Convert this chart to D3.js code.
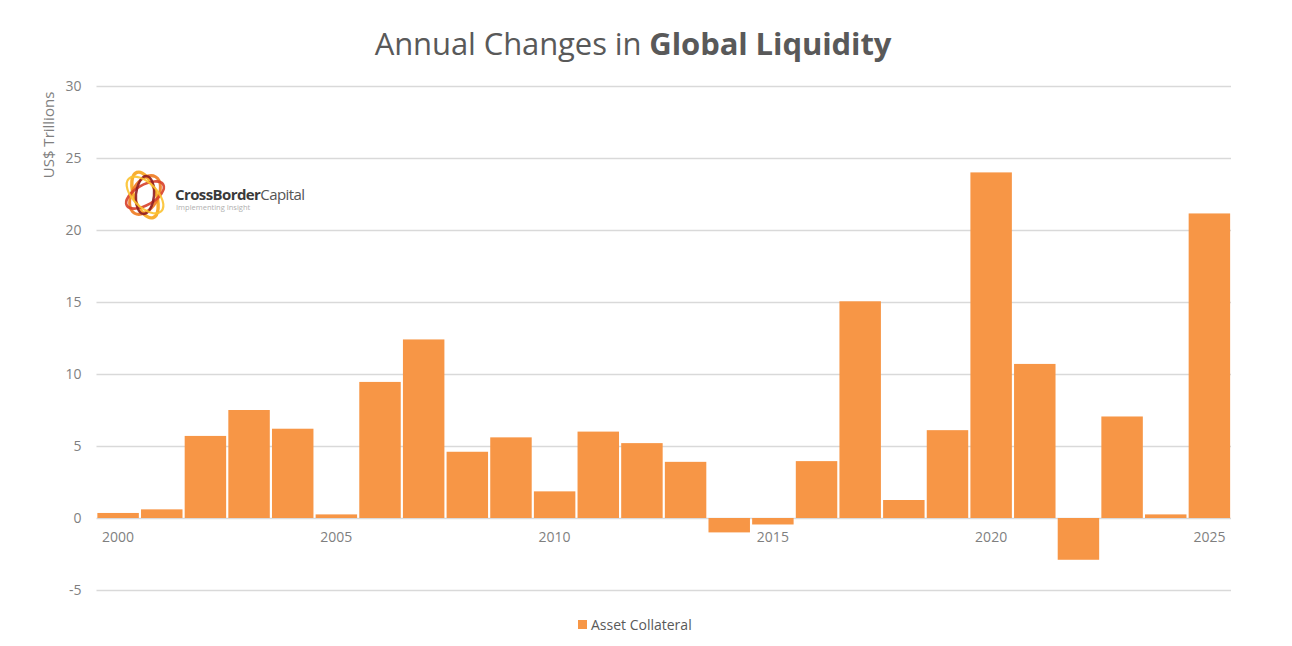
<!DOCTYPE html>
<html>
<head>
<meta charset="utf-8">
<script src="https://cdn.jsdelivr.net/npm/d3@7"></script>
<style>
  body { margin: 0; background: #fff; }
  svg text { font-family: "Open Sans", "Noto Sans", sans-serif; }
</style>
</head>
<body>
<svg id="graphique" width="1292" height="646"></svg>
<script>
// data
var years = [2000, 2001, 2002, 2003, 2004, 2005, 2006, 2007, 2008, 2009,
             2010, 2011, 2012, 2013, 2014, 2015, 2016, 2017, 2018, 2019,
             2020, 2021, 2022, 2023, 2024, 2025];
var assetCollateral = [0.35, 0.6, 5.7, 7.5, 6.2, 0.25, 9.45, 12.4, 4.6, 5.6,
                       1.85, 6.0, 5.2, 3.9, -1.0, -0.45, 3.95, 15.05, 1.25, 6.1,
                       24.0, 10.7, -2.9, 7.05, 0.25, 21.15];
var yTicks = [-5, 0, 5, 10, 15, 20, 25, 30];
var xTickYears = [2000, 2005, 2010, 2015, 2020, 2025];

var graphique = d3.select("#graphique");
var ORANGE = "#f79646";
var GREY_TXT = "#7f7f7f";

var MARGINS = { top: 86, left: 96.5, right: 1231, bottom: 590 };

var xScale = d3.scaleBand()
  .domain(years)
  .range([MARGINS.left, MARGINS.right])
  .paddingInner(0.05)
  .paddingOuter(0.02);

var yScale = d3.scaleLinear()
  .domain([-5, 30])
  .range([MARGINS.bottom, MARGINS.top]);

//// title
var title = graphique.append("text")
  .attr("x", 633)
  .attr("y", 55)
  .attr("text-anchor", "middle")
  .attr("font-size", 31)
  .attr("letter-spacing", -0.1)
  .attr("fill", "#595959");
title.append("tspan").text("Annual Changes in ");
title.append("tspan").attr("font-weight", "bold").text("Global Liquidity");

//// gridlines
var yAxis = d3.axisLeft(yScale)
  .tickValues(yTicks)
  .tickSize(-(MARGINS.right - MARGINS.left))
  .tickPadding(15)
  .tickFormat(function(d) { return String(d); });

var gY = graphique.append("g")
  .attr("transform", "translate(" + MARGINS.left + ",0)")
  .call(yAxis);
gY.select(".domain").remove();
gY.selectAll(".tick line").attr("stroke", "#d9d9d9").attr("stroke-width", 1.3);
gY.selectAll(".tick text")
  .attr("fill", GREY_TXT)
  .attr("font-size", 14)
  .attr("font-family", "Open Sans, sans-serif");

// y title
graphique.append("text")
  .attr("transform", "translate(54,135) rotate(-90)")
  .attr("text-anchor", "middle")
  .attr("font-size", 15)
  .attr("fill", GREY_TXT)
  .text("US$ Trillions");

//// bars
graphique.append("g").selectAll("rect")
  .data(years)
  .join("rect")
  .attr("x", function(d) { return xScale(d); })
  .attr("width", xScale.bandwidth())
  .attr("y", function(d, i) { return yScale(Math.max(0, assetCollateral[i])); })
  .attr("height", function(d, i) { return Math.abs(yScale(assetCollateral[i]) - yScale(0)); })
  .attr("fill", ORANGE);

//// x labels
var xAxis = d3.axisBottom(xScale)
  .tickValues(xTickYears)
  .tickSize(0)
  .tickPadding(14);
var gX = graphique.append("g")
  .attr("transform", "translate(0," + yScale(0) + ")")
  .call(xAxis);
gX.select(".domain").remove();
gX.selectAll(".tick text")
  .attr("fill", GREY_TXT)
  .attr("font-size", 14)
  .attr("font-family", "Open Sans, sans-serif");

//// legend
graphique.append("rect")
  .attr("x", 578).attr("y", 620)
  .attr("width", 9).attr("height", 9)
  .attr("fill", ORANGE);
graphique.append("text")
  .attr("x", 591).attr("y", 630)
  .attr("font-size", 14)
  .attr("fill", "#595959")
  .text("Asset Collateral");

//// logo
var logo = graphique.append("g").attr("transform", "translate(145,195)");
var rings = [
  { rx: 11, ry: 24, rot: -20, col: "#f7a51c", w: 3.4 },
  { rx: 13, ry: 21, rot: 30, col: "#ee7a1f", w: 3 },
  { rx: 10, ry: 21, rot: 60, col: "#d7402a", w: 2.6 },
  { rx: 9, ry: 19, rot: 5, col: "#8e1d22", w: 2.4 },
  { rx: 12, ry: 23, rot: -45, col: "#fbc230", w: 2.2 }
];
logo.selectAll("ellipse")
  .data(rings)
  .join("ellipse")
  .attr("rx", function(d) { return d.rx; })
  .attr("ry", function(d) { return d.ry; })
  .attr("transform", function(d) { return "rotate(" + d.rot + ")"; })
  .attr("fill", "none")
  .attr("stroke", function(d) { return d.col; })
  .attr("stroke-width", function(d) { return d.w; })
  .attr("opacity", 0.9);

var logoTxt = graphique.append("text")
  .attr("x", 175).attr("y", 200)
  .attr("font-size", 15)
  .attr("font-family", "Liberation Sans, Arial, sans-serif")
  .attr("letter-spacing", -0.6)
  .attr("fill", "#3a3a3a");
logoTxt.append("tspan").attr("font-weight", "bold").text("CrossBorder");
logoTxt.append("tspan").attr("fill", "#555").text("Capital");
graphique.append("text")
  .attr("x", 176).attr("y", 210)
  .attr("font-size", 7.5)
  .attr("font-family", "Liberation Sans, Arial, sans-serif")
  .attr("fill", "#b0b0b0")
  .text("Implementing Insight");
</script>
</body>
</html>
